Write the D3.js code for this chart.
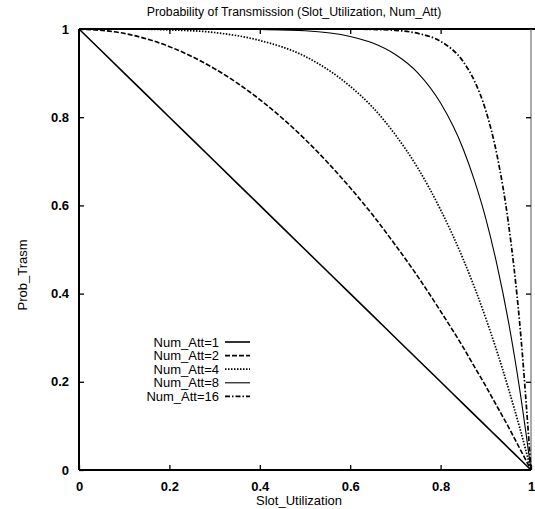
<!DOCTYPE html>
<html>
<head>
<meta charset="utf-8">
<script src="https://cdn.jsdelivr.net/npm/d3@7/dist/d3.min.js"></script>
<style>
  body { margin: 0; background: #fff; }
  svg text { font-family: "Liberation Sans", Arial, sans-serif; fill: #000; }
</style>
</head>
<body>
<div id="chart"></div>
<script>
// Slot utilization sample points (x values)
const slotUtil = [0, 0.1, 0.2, 0.3, 0.4, 0.5, 0.6, 0.65, 0.7, 0.75, 0.8, 0.85, 0.875, 0.9, 0.925, 0.95, 0.975, 1];

// Probability of transmission, one array per Num_Att
const att1  = [1, 0.9, 0.8, 0.7, 0.6, 0.5, 0.4, 0.35, 0.3, 0.25, 0.2, 0.15, 0.125, 0.1, 0.075, 0.05, 0.025, 0];
const att2  = [1, 0.99, 0.96, 0.91, 0.84, 0.75, 0.64, 0.578, 0.51, 0.438, 0.36, 0.278, 0.234, 0.19, 0.144, 0.098, 0.049, 0];
const att4  = [1, 1, 0.998, 0.992, 0.974, 0.938, 0.87, 0.822, 0.76, 0.684, 0.59, 0.478, 0.414, 0.344, 0.268, 0.185, 0.096, 0];
const att8  = [1, 1, 1, 1, 0.999, 0.996, 0.983, 0.968, 0.942, 0.9, 0.832, 0.728, 0.656, 0.57, 0.464, 0.337, 0.183, 0];
const att16 = [1, 1, 1, 1, 1, 1, 1, 0.999, 0.997, 0.99, 0.972, 0.926, 0.882, 0.815, 0.713, 0.56, 0.333, 0];

const seriesNames = ['Num_Att=1', 'Num_Att=2', 'Num_Att=4', 'Num_Att=8', 'Num_Att=16'];
const seriesValues = [att1, att2, att4, att8, att16];
const dashes = [null, '5,2', '1.5,1.5', null, '5,2,1.5,2'];
const widths = [1.6, 1.6, 1.7, 1.1, 1.7];

const xTicks = [0, 0.2, 0.4, 0.6, 0.8, 1];
const yTicks = [0, 0.2, 0.4, 0.6, 0.8, 1];
const xTickLabels = ['0', '0.2', '0.4', '0.6', '0.8', '1'];
const yTickLabels = ['0', '0.2', '0.4', '0.6', '0.8', '1'];

const width = 535, height = 509;
const margin = { top: 29, right: 4, bottom: 39, left: 79 };
const innerWidth = 531 - margin.left;
const innerHeight = height - margin.top - margin.bottom;

const svg = d3.select('#chart')
  .append('svg')
  .attr('width', width)
  .attr('height', height);

const g = svg.append('g')
  .attr('transform', `translate(${margin.left},${margin.top})`);

const x = d3.scaleLinear().domain([0, 1]).range([0, innerWidth]);
const y = d3.scaleLinear().domain([0, 1]).range([innerHeight, 0]);

// Frame
g.append('line').attr('x1', 0).attr('x2', 0).attr('y1', 0).attr('y2', innerHeight)
  .attr('stroke', '#000').attr('stroke-width', 2);
g.append('line').attr('x1', 0).attr('x2', innerWidth).attr('y1', innerHeight).attr('y2', innerHeight)
  .attr('stroke', '#000').attr('stroke-width', 2);
g.append('line').attr('x1', 0).attr('x2', width - margin.left).attr('y1', 0).attr('y2', 0)
  .attr('stroke', '#000').attr('stroke-width', 2);
g.append('line').attr('x1', innerWidth).attr('x2', innerWidth).attr('y1', 0).attr('y2', innerHeight)
  .attr('stroke', '#555').attr('stroke-width', 1);

// Bottom axis (ticks inward)
const xAxis = d3.axisBottom(x)
  .tickValues(xTicks)
  .tickSize(-5)
  .tickSizeOuter(0)
  .tickPadding(12)
  .tickFormat((d, i) => xTickLabels[i]);
const gx = g.append('g')
  .attr('transform', `translate(0,${innerHeight})`)
  .call(xAxis);
gx.select('.domain').remove();
gx.selectAll('line').attr('stroke', '#000').attr('stroke-width', 1.3);
gx.selectAll('text').style('font-size', '13px').style('font-weight', 'bold');

// Top ticks
const gxTop = g.append('g').call(
  d3.axisTop(x).tickValues(xTicks.slice(1, -1)).tickSize(-5).tickFormat('')
);
gxTop.select('.domain').remove();
gxTop.selectAll('text').remove();
gxTop.selectAll('line').attr('stroke', '#000').attr('stroke-width', 1.3);

// Left axis
const yAxis = d3.axisLeft(y)
  .tickValues(yTicks)
  .tickSize(-5)
  .tickSizeOuter(0)
  .tickPadding(10)
  .tickFormat((d, i) => yTickLabels[i]);
const gy = g.append('g').call(yAxis);
gy.select('.domain').remove();
gy.selectAll('line').attr('stroke', '#000').attr('stroke-width', 1.3);
gy.selectAll('text').style('font-size', '13px').style('font-weight', 'bold');

// Right ticks
const gyRight = g.append('g')
  .attr('transform', `translate(${innerWidth},0)`)
  .call(d3.axisRight(y).tickValues(yTicks.slice(1, -1)).tickSize(-5).tickFormat(''));
gyRight.select('.domain').remove();
gyRight.selectAll('text').remove();
gyRight.selectAll('line').attr('stroke', '#000').attr('stroke-width', 1.3);

// Curves
const line = d3.line()
  .x((d, i) => x(slotUtil[i]))
  .y(d => y(d))
  .curve(d3.curveMonotoneX);

seriesValues.forEach((vals, i) => {
  g.append('path')
    .datum(vals)
    .attr('fill', 'none')
    .attr('stroke', '#000')
    .attr('stroke-width', widths[i])
    .attr('stroke-dasharray', dashes[i])
    .attr('d', line);
});

// Title
svg.append('text')
  .attr('x', 294)
  .attr('y', 16)
  .attr('text-anchor', 'middle')
  .style('font-size', '12.3px')
  .text('Probability of Transmission (Slot_Utilization, Num_Att)');

// Axis labels
svg.append('text')
  .attr('x', 299)
  .attr('y', 505)
  .attr('text-anchor', 'middle')
  .style('font-size', '13px')
  .text('Slot_Utilization');

svg.append('text')
  .attr('transform', 'rotate(-90)')
  .attr('x', -275)
  .attr('y', 27)
  .attr('text-anchor', 'middle')
  .style('font-size', '13px')
  .text('Prob_Trasm');

// Legend
const legend = svg.append('g').attr('transform', 'translate(219, 342)');
const legendItems = legend.selectAll('.legend-item')
  .data(seriesNames)
  .enter()
  .append('g')
  .attr('class', 'legend-item')
  .attr('transform', (d, i) => `translate(0, ${i * 13.6})`);

legendItems.append('text')
  .attr('x', 0)
  .attr('y', 4.5)
  .attr('text-anchor', 'end')
  .style('font-size', '13px')
  .text(d => d);

legendItems.append('line')
  .attr('x1', 6)
  .attr('x2', 31)
  .attr('y1', 0)
  .attr('y2', 0)
  .attr('stroke', '#000')
  .attr('stroke-width', (d, i) => widths[i])
  .attr('stroke-dasharray', (d, i) => dashes[i]);
</script>
</body>
</html>
